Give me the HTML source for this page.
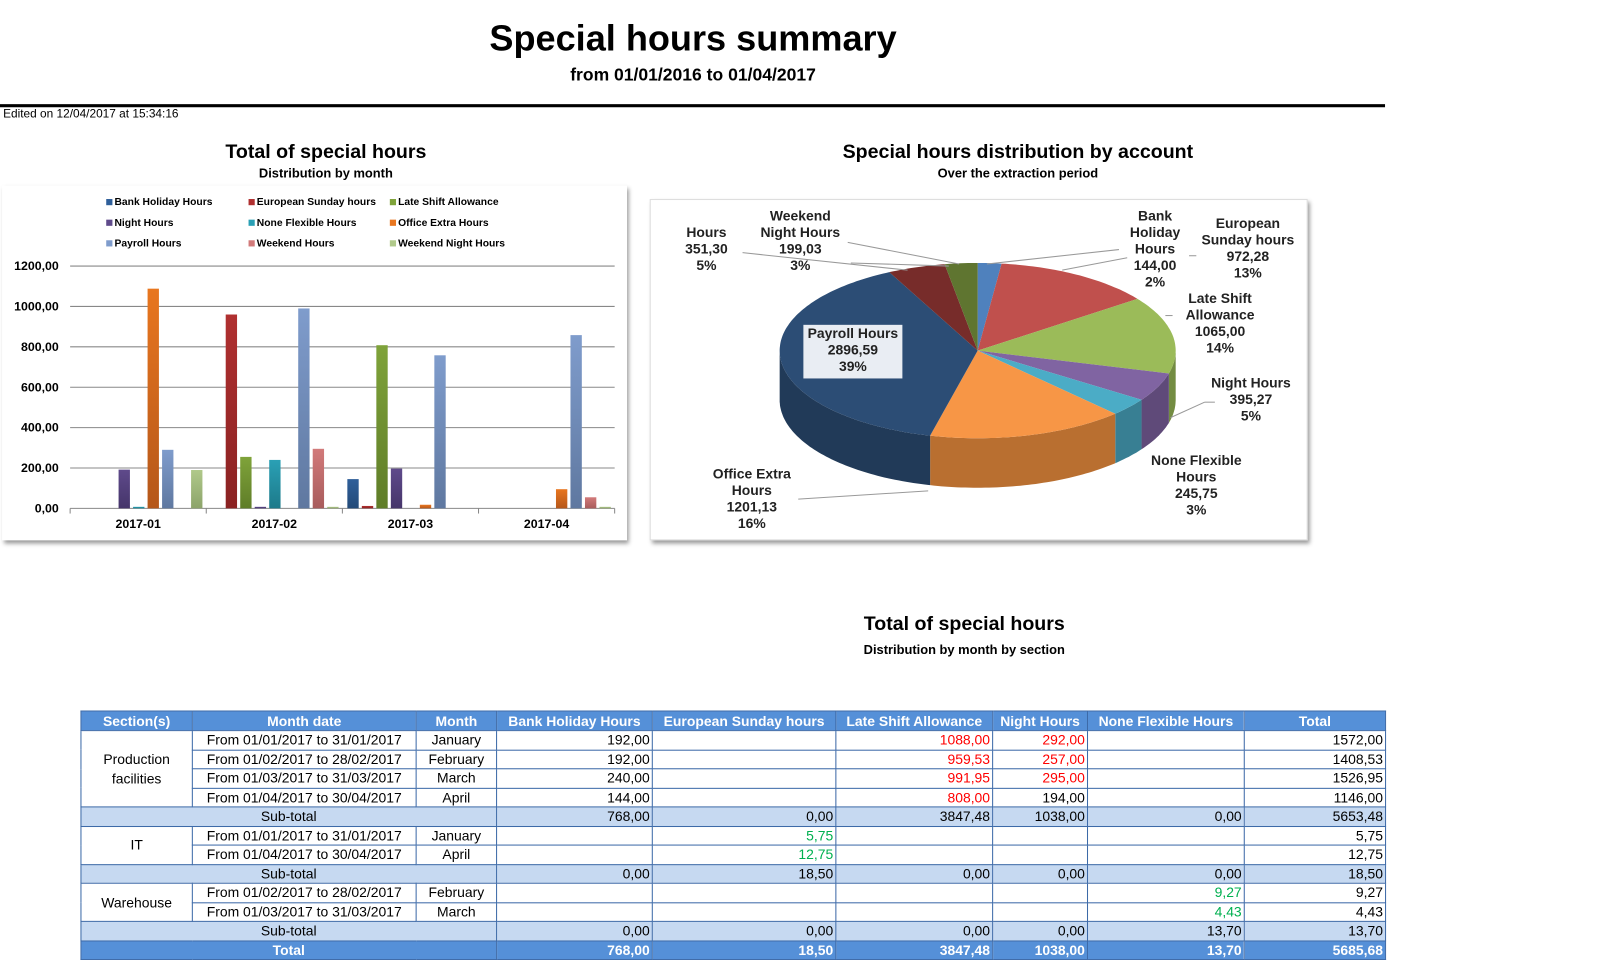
<!DOCTYPE html>
<html><head><meta charset="utf-8">
<style>
html,body{margin:0;padding:0;background:#fff;width:1616px;height:959px;overflow:hidden}
#w{position:absolute;left:0;top:0;width:1567px;height:930px;transform:scale(1.0313,1.0312);transform-origin:0 0;font-family:"Liberation Sans",Arial,sans-serif;color:#000}
.a{position:absolute;white-space:nowrap}
.c{text-align:center}
.b{font-weight:bold}
table{position:absolute;left:78px;top:689px;border-collapse:collapse;table-layout:fixed;font-size:13.5px}
td{border:1px solid #3d6aa8;padding:0 2px;height:17.5px;line-height:17px;text-align:right;white-space:nowrap;overflow:hidden}
tr.h td{background:#5590d8;color:#fff;font-weight:bold;text-align:center;height:18px}
tr.s td{background:#c6d9f1}
tr.t td{background:#5590d8;color:#fff;font-weight:bold}
.r{color:#ff0000}.g{color:#00b050}
td.cc{text-align:center}
.lg{position:absolute;font-size:10px;font-weight:bold;white-space:nowrap}
.lg i{display:inline-block;width:6px;height:6px;margin-right:2px;vertical-align:0}
.pl{position:absolute;font-size:13.5px;font-weight:bold;text-align:center;line-height:16px;color:#222;white-space:nowrap}
</style></head><body><div id="w">
<div class="a b c" style="left:372px;width:600px;top:18px;font-size:35px">Special hours summary</div>
<div class="a b c" style="left:372px;width:600px;top:63px;font-size:17px">from 01/01/2016 to 01/04/2017</div>
<div class="a" style="left:0;top:101px;width:1343px;height:3px;background:#000"></div>
<div class="a" style="left:3px;top:105px;font-size:11.5px">Edited on 12/04/2017 at 15:34:16</div>

<div class="a b c" style="left:116px;width:400px;top:137px;font-size:19px">Total of special hours</div>
<div class="a b c" style="left:116px;width:400px;top:161px;font-size:12.5px">Distribution by month</div>
<div class="a" style="left:2px;top:180px;width:606px;height:344px;background:#fff;box-shadow:2px 3px 4px #999"></div>

<div class="a b c" style="left:737px;width:500px;top:137px;font-size:19px">Special hours distribution by account</div>
<div class="a b c" style="left:737px;width:500px;top:161px;font-size:12.5px">Over the extraction period</div>
<div class="a" style="left:630px;top:193px;width:636px;height:329px;background:#fff;box-shadow:2px 3px 4px #999;border:1px solid #ddd"></div>

<svg class="a" style="left:0;top:0" width="1567" height="930" id="sv"></svg>

<div class="lg" style="left:103px;top:191px"><i style="background:#2f5f9a"></i>Bank Holiday Hours</div>
<div class="lg" style="left:241px;top:191px"><i style="background:#b03030"></i>European Sunday hours</div>
<div class="lg" style="left:378px;top:191px"><i style="background:#7fa33a"></i>Late Shift Allowance</div>
<div class="lg" style="left:103px;top:211px"><i style="background:#5f4a8b"></i>Night Hours</div>
<div class="lg" style="left:241px;top:211px"><i style="background:#2aa0b5"></i>None Flexible Hours</div>
<div class="lg" style="left:378px;top:211px"><i style="background:#e8761f"></i>Office Extra Hours</div>
<div class="lg" style="left:103px;top:231px"><i style="background:#7f9ccc"></i>Payroll Hours</div>
<div class="lg" style="left:241px;top:231px"><i style="background:#d27a7a"></i>Weekend Hours</div>
<div class="lg" style="left:378px;top:231px"><i style="background:#b0c98a"></i>Weekend Night Hours</div>

<div class="pl" style="left:779px;top:315px;width:96px;height:52px;background:#e9edf3"></div>
<div class="pl" style="left:779px;top:316px;width:96px">Payroll Hours<br>2896,59<br>39%</div>
<div class="pl" style="left:650px;top:218px;width:70px">Hours<br>351,30<br>5%</div>
<div class="pl" style="left:726px;top:202px;width:100px">Weekend<br>Night Hours<br>199,03<br>3%</div>
<div class="pl" style="left:1085px;top:202px;width:70px">Bank<br>Holiday<br>Hours<br>144,00<br>2%</div>
<div class="pl" style="left:1155px;top:209px;width:110px">European<br>Sunday hours<br>972,28<br>13%</div>
<div class="pl" style="left:1133px;top:282px;width:100px">Late Shift<br>Allowance<br>1065,00<br>14%</div>
<div class="pl" style="left:1163px;top:364px;width:100px">Night Hours<br>395,27<br>5%</div>
<div class="pl" style="left:1100px;top:439px;width:120px">None Flexible<br>Hours<br>245,75<br>3%</div>
<div class="pl" style="left:679px;top:452px;width:100px">Office Extra<br>Hours<br>1201,13<br>16%</div>

<div class="a b c" style="left:735px;width:400px;top:595px;font-size:19px">Total of special hours</div>
<div class="a b c" style="left:735px;width:400px;top:623px;font-size:12.5px">Distribution by month by section</div>

<table>
<colgroup><col style="width:108px"><col style="width:217px"><col style="width:78px"><col style="width:151px"><col style="width:178px"><col style="width:152px"><col style="width:92px"><col style="width:152px"><col style="width:137px"></colgroup>
<tr class="h"><td>Section(s)</td><td>Month date</td><td>Month</td><td>Bank Holiday Hours</td><td>European Sunday hours</td><td>Late Shift Allowance</td><td>Night Hours</td><td>None Flexible Hours</td><td>Total</td></tr>
<tr><td class="cc" rowspan="4" style="line-height:19px;white-space:normal">Production facilities</td><td class="cc">From 01/01/2017 to 31/01/2017</td><td class="cc">January</td><td>192,00</td><td></td><td class="r">1088,00</td><td class="r">292,00</td><td></td><td>1572,00</td></tr>
<tr><td class="cc">From 01/02/2017 to 28/02/2017</td><td class="cc">February</td><td>192,00</td><td></td><td class="r">959,53</td><td class="r">257,00</td><td></td><td>1408,53</td></tr>
<tr><td class="cc">From 01/03/2017 to 31/03/2017</td><td class="cc">March</td><td>240,00</td><td></td><td class="r">991,95</td><td class="r">295,00</td><td></td><td>1526,95</td></tr>
<tr><td class="cc">From 01/04/2017 to 30/04/2017</td><td class="cc">April</td><td>144,00</td><td></td><td class="r">808,00</td><td>194,00</td><td></td><td>1146,00</td></tr>
<tr class="s"><td class="cc" colspan="3">Sub-total</td><td>768,00</td><td>0,00</td><td>3847,48</td><td>1038,00</td><td>0,00</td><td>5653,48</td></tr>
<tr><td class="cc" rowspan="2">IT</td><td class="cc">From 01/01/2017 to 31/01/2017</td><td class="cc">January</td><td></td><td class="g">5,75</td><td></td><td></td><td></td><td>5,75</td></tr>
<tr><td class="cc">From 01/04/2017 to 30/04/2017</td><td class="cc">April</td><td></td><td class="g">12,75</td><td></td><td></td><td></td><td>12,75</td></tr>
<tr class="s"><td class="cc" colspan="3">Sub-total</td><td>0,00</td><td>18,50</td><td>0,00</td><td>0,00</td><td>0,00</td><td>18,50</td></tr>
<tr><td class="cc" rowspan="2">Warehouse</td><td class="cc">From 01/02/2017 to 28/02/2017</td><td class="cc">February</td><td></td><td></td><td></td><td></td><td class="g">9,27</td><td>9,27</td></tr>
<tr><td class="cc">From 01/03/2017 to 31/03/2017</td><td class="cc">March</td><td></td><td></td><td></td><td></td><td class="g">4,43</td><td>4,43</td></tr>
<tr class="s"><td class="cc" colspan="3">Sub-total</td><td>0,00</td><td>0,00</td><td>0,00</td><td>0,00</td><td>13,70</td><td>13,70</td></tr>
<tr class="t"><td class="cc" colspan="3">Total</td><td>768,00</td><td>18,50</td><td>3847,48</td><td>1038,00</td><td>13,70</td><td>5685,68</td></tr>
</table>
</div>
<script>
var s='';
// bar chart
var y0=493,k=235/1200;
for(var i=0;i<=6;i++){var y=y0-i*200*k;s+='<line x1="68" x2="596" y1="'+y+'" y2="'+y+'" stroke="#888" stroke-width="1"/>';
s+='<text x="57" y="'+(y+4)+'" text-anchor="end" font-size="12" font-weight="bold" font-family="Liberation Sans">'+(i*200)+',00</text>';}
for(var g=0;g<=4;g++){var x=68+g*132;s+='<line x1="'+x+'" x2="'+x+'" y1="493" y2="498" stroke="#888"/>';}
var lab=['2017-01','2017-02','2017-03','2017-04'];
for(var g=0;g<4;g++)s+='<text x="'+(134+g*132)+'" y="512" text-anchor="middle" font-size="12" font-weight="bold" font-family="Liberation Sans">'+lab[g]+'</text>';
var col=['#2f5f9a','#b03030','#7fa33a','#5f4a8b','#2aa0b5','#e8761f','#7f9ccc','#d27a7a','#b0c98a'];
var dark=['#234a78','#8a2222','#5f7d28','#45356a','#1d7a8a','#b5571a','#5f78a0','#a85c5c','#8ca36a'];
var v=[[0,0,0,192,5,1088,290,0,190],[0,960,255,5,240,0,990,295,5],[145,12,808,197,0,18,758,0,0],[0,0,0,0,0,95,858,55,5]];
var d='<defs>';for(var i=0;i<9;i++)d+='<linearGradient id="b'+i+'" x1="0" y1="0" x2="0" y2="1"><stop offset="0" stop-color="'+col[i]+'"/><stop offset="1" stop-color="'+dark[i]+'"/></linearGradient>';
for(var i=0;i<9;i++)d+='<linearGradient id="p'+i+'" x1="0" y1="0" x2="1" y2="0"><stop offset="0" stop-color="'+dark[i]+'"/><stop offset="1" stop-color="'+col[i]+'"/></linearGradient>';
d+='</defs>';
for(var g=0;g<4;g++)for(var i=0;i<9;i++){var h=v[g][i]*k;if(h<=0)continue;if(h<1.5)h=1.5;
s+='<rect x="'+(68+g*132+4.8+i*14.06)+'" y="'+(y0-h)+'" width="11" height="'+h+'" fill="url(#b'+i+')"/>';}
// pie
var vals=[144,972.28,1065,395.27,245.75,1201.13,2896.59,351.30,199.03];
var pc=['#4f81bd','#c0504d','#9bbb59','#8064a2','#4bacc6','#f79646','#2c4d75','#772c2a','#5f7530'];
var ps=['#3b6190','#8f3b39','#738c42','#5f4a79','#387f93','#b96f30','#213a58','#5a2120','#475822'];
var tot=0;vals.forEach(function(a){tot+=a});
var cx=948,cy=340,rx=192,ry=85,dp=48;
function P(t,dy){return (cx+rx*Math.sin(t)).toFixed(1)+','+(cy-ry*Math.cos(t)+(dy||0)).toFixed(1);}
var a=0,sides='',tops='';
for(var i=0;i<9;i++){var b=a+vals[i]/tot*2*Math.PI;
 var lo=Math.max(a,Math.PI/2),hi=Math.min(b,3*Math.PI/2);
 if(hi>lo){var p='M'+P(lo);for(var t=lo;t<=hi;t+=0.02)p+=' L'+P(t);p+=' L'+P(hi);for(var t=hi;t>=lo;t-=0.02)p+=' L'+P(t,dp);p+=' L'+P(lo,dp)+'Z';
  sides+='<path d="'+p+'" fill="'+ps[i]+'"/>';}
 var p='M'+cx+','+cy+' L'+P(a);for(var t=a;t<=b;t+=0.02)p+=' L'+P(t);p+=' L'+P(b)+'Z';
 tops+='<path d="'+p+'" fill="'+pc[i]+'"/>';a=b;}
var lines='';
[[822,235,930,256],[720,245,880,262],[825,255,920,258],[1085,242,957,256],[1093,250,1030,262],[1153,248,1160,248],[1130,306,1137,306],[1168,390,1135,405],[1178,390,1168,390],[774,484,900,476]].forEach(function(l){lines+='<line x1="'+l[0]+'" y1="'+l[1]+'" x2="'+l[2]+'" y2="'+l[3]+'" stroke="#999" stroke-width="1"/>';});
document.getElementById('sv').innerHTML=d+s+sides+tops+lines;
</script>
</body></html>
